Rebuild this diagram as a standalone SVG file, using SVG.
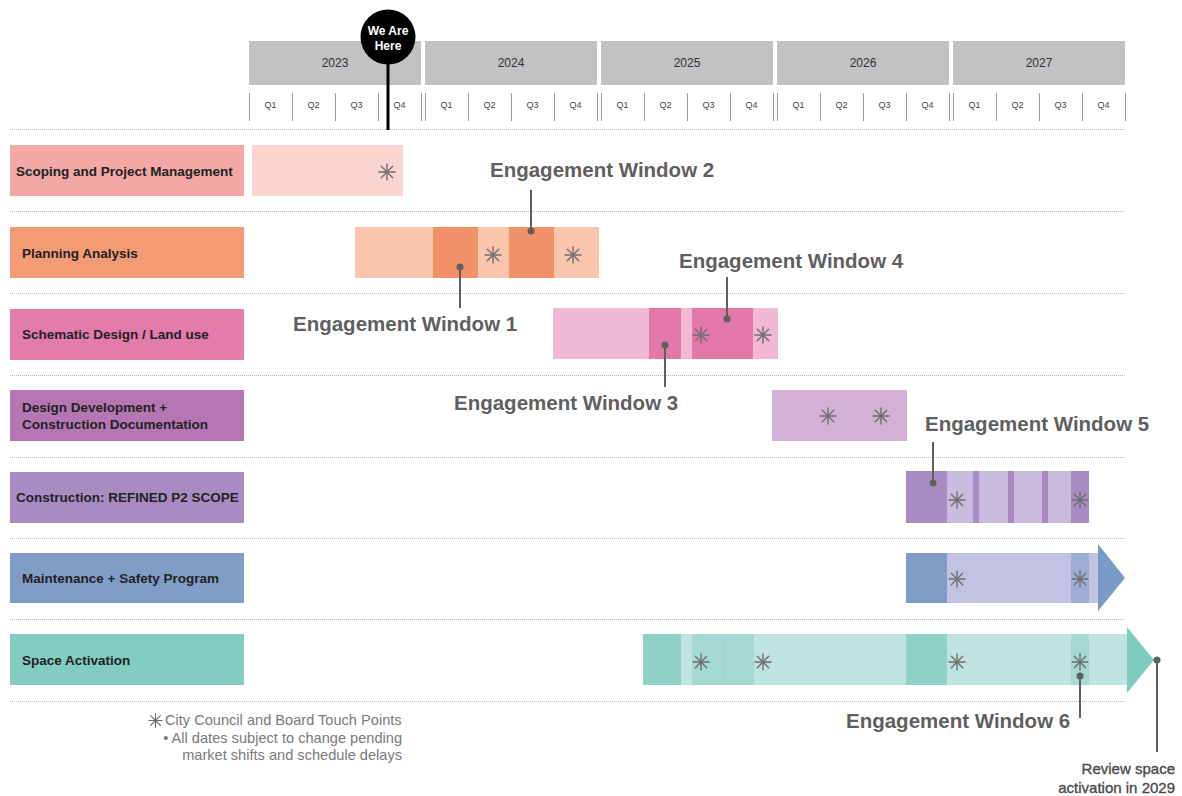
<svg xmlns="http://www.w3.org/2000/svg" xmlns:xlink="http://www.w3.org/1999/xlink" width="1182" height="796" viewBox="0 0 1182 796">
<style>
.yr{fill:#c1c2c4}
.yt{font-family:"Liberation Sans",Arial,sans-serif;font-size:12px;fill:#333;text-anchor:middle}
.qt{font-family:"Liberation Sans",Arial,sans-serif;font-size:9px;fill:#444;text-anchor:middle}
.tick{stroke:#9a9a9a;stroke-width:1}
.dot{stroke:#b8b8b8;stroke-width:1;stroke-dasharray:1 1}
.lbl{font-family:"Liberation Sans",Arial,sans-serif;font-size:13.5px;font-weight:bold;fill:#222}
.ew{font-family:"Liberation Sans",Arial,sans-serif;font-size:20.5px;font-weight:bold;fill:#5f5f5f}
.ptr{stroke:#5f5f5f;stroke-width:2;fill:none}
.pd{fill:#5f5f5f}
.note{font-family:"Liberation Sans",Arial,sans-serif;font-size:14.6px;fill:#7a7a7a}
.rev{font-family:"Liberation Sans",Arial,sans-serif;font-size:15px;fill:#4a4a4a;stroke:#4a4a4a;stroke-width:0.35;text-anchor:end}
</style>
<defs>
<symbol id="ast" viewBox="-10 -10 20 20" overflow="visible">
<g stroke="#6e6e6e" stroke-width="1.4" stroke-linecap="round">
<line x1="0" y1="-8" x2="0" y2="8"/>
<line x1="-8" y1="0" x2="8" y2="0"/>
<line x1="-5.7" y1="-5.7" x2="5.7" y2="5.7"/>
<line x1="-5.7" y1="5.7" x2="5.7" y2="-5.7"/>
</g>
</symbol>
</defs>
<rect width="1182" height="796" fill="#fff"/>

<g id="header">
<rect class="yr" x="249" y="41" width="172" height="44"/>
<rect class="yr" x="425" y="41" width="172" height="44"/>
<rect class="yr" x="601" y="41" width="172" height="44"/>
<rect class="yr" x="777" y="41" width="172" height="44"/>
<rect class="yr" x="953" y="41" width="172" height="44"/>
<text class="yt" x="335" y="67">2023</text>
<text class="yt" x="511" y="67">2024</text>
<text class="yt" x="687" y="67">2025</text>
<text class="yt" x="863" y="67">2026</text>
<text class="yt" x="1039" y="67">2027</text>
<g>
<line class="tick" x1="249.5" y1="93" x2="249.5" y2="121"/><line class="tick" x1="292.5" y1="93" x2="292.5" y2="121"/><line class="tick" x1="335.5" y1="93" x2="335.5" y2="121"/><line class="tick" x1="378.5" y1="93" x2="378.5" y2="121"/><line class="tick" x1="421.5" y1="93" x2="421.5" y2="121"/>
<line class="tick" x1="425.5" y1="93" x2="425.5" y2="121"/><line class="tick" x1="468.5" y1="93" x2="468.5" y2="121"/><line class="tick" x1="511.5" y1="93" x2="511.5" y2="121"/><line class="tick" x1="554.5" y1="93" x2="554.5" y2="121"/><line class="tick" x1="597.5" y1="93" x2="597.5" y2="121"/>
<line class="tick" x1="601.5" y1="93" x2="601.5" y2="121"/><line class="tick" x1="644.5" y1="93" x2="644.5" y2="121"/><line class="tick" x1="687.5" y1="93" x2="687.5" y2="121"/><line class="tick" x1="730.5" y1="93" x2="730.5" y2="121"/><line class="tick" x1="773.5" y1="93" x2="773.5" y2="121"/>
<line class="tick" x1="777.5" y1="93" x2="777.5" y2="121"/><line class="tick" x1="820.5" y1="93" x2="820.5" y2="121"/><line class="tick" x1="863.5" y1="93" x2="863.5" y2="121"/><line class="tick" x1="906.5" y1="93" x2="906.5" y2="121"/><line class="tick" x1="949.5" y1="93" x2="949.5" y2="121"/>
<line class="tick" x1="953.5" y1="93" x2="953.5" y2="121"/><line class="tick" x1="996.5" y1="93" x2="996.5" y2="121"/><line class="tick" x1="1039.5" y1="93" x2="1039.5" y2="121"/><line class="tick" x1="1082.5" y1="93" x2="1082.5" y2="121"/><line class="tick" x1="1125.5" y1="93" x2="1125.5" y2="121"/>
</g>
<g>
<text class="qt" x="270.5" y="108">Q1</text><text class="qt" x="313.5" y="108">Q2</text><text class="qt" x="356.5" y="108">Q3</text><text class="qt" x="399.5" y="108">Q4</text>
<text class="qt" x="446.5" y="108">Q1</text><text class="qt" x="489.5" y="108">Q2</text><text class="qt" x="532.5" y="108">Q3</text><text class="qt" x="575.5" y="108">Q4</text>
<text class="qt" x="622.5" y="108">Q1</text><text class="qt" x="665.5" y="108">Q2</text><text class="qt" x="708.5" y="108">Q3</text><text class="qt" x="751.5" y="108">Q4</text>
<text class="qt" x="798.5" y="108">Q1</text><text class="qt" x="841.5" y="108">Q2</text><text class="qt" x="884.5" y="108">Q3</text><text class="qt" x="927.5" y="108">Q4</text>
<text class="qt" x="974.5" y="108">Q1</text><text class="qt" x="1017.5" y="108">Q2</text><text class="qt" x="1060.5" y="108">Q3</text><text class="qt" x="1103.5" y="108">Q4</text>
</g>
</g>

<g id="gridlines">
<line class="dot" x1="10" y1="129.5" x2="1126" y2="129.5"/>
<line class="dot" x1="10" y1="211.5" x2="1126" y2="211.5"/>
<line class="dot" x1="10" y1="293.5" x2="1126" y2="293.5"/>
<line class="dot" x1="10" y1="375.5" x2="1126" y2="375.5"/>
<line class="dot" x1="10" y1="457.5" x2="1126" y2="457.5"/>
<line class="dot" x1="10" y1="538.5" x2="1126" y2="538.5"/>
<line class="dot" x1="10" y1="619.5" x2="1126" y2="619.5"/>
<line class="dot" x1="10" y1="701.5" x2="1126" y2="701.5"/>
</g>

<g id="row-scoping">
<rect x="10" y="145" width="234" height="51" fill="#f4a8a6"/>
<text class="lbl" x="16" y="176">Scoping and Project Management</text>
<rect x="252" y="145" width="151" height="51" fill="#fad4cf"/>
<use href="#ast" xlink:href="#ast" x="377" y="162" width="20" height="20"/>
</g>

<g id="row-planning">
<rect x="10" y="227" width="234" height="51" fill="#f39b75"/>
<text class="lbl" x="22" y="258">Planning Analysis</text>
<rect x="355" y="227" width="244" height="51" fill="#f9c6ad"/>
<rect x="433" y="227" width="45" height="51" fill="#f0916a"/>
<rect x="509" y="227" width="45" height="51" fill="#f0916a"/>
<use href="#ast" xlink:href="#ast" x="483" y="245" width="20" height="20"/>
<use href="#ast" xlink:href="#ast" x="563" y="245" width="20" height="20"/>
</g>

<g id="row-schematic">
<rect x="10" y="309" width="234" height="51" fill="#e37bab"/>
<text class="lbl" x="22" y="339">Schematic Design / Land use</text>
<rect x="553" y="308" width="225" height="51" fill="#f0b8d2"/>
<rect x="649" y="308" width="32" height="51" fill="#e277aa"/>
<rect x="692" y="308" width="61" height="51" fill="#e277aa"/>
<use href="#ast" xlink:href="#ast" x="691" y="325" width="20" height="20"/>
<use href="#ast" xlink:href="#ast" x="753" y="325" width="20" height="20"/>
</g>

<g id="row-design">
<rect x="10" y="390" width="234" height="51" fill="#b576b3"/>
<text class="lbl" x="22" y="412">Design Development +</text>
<text class="lbl" x="22" y="429">Construction Documentation</text>
<rect x="772" y="390" width="135" height="51" fill="#d2b1d4"/>
<use href="#ast" xlink:href="#ast" x="818" y="406" width="20" height="20"/>
<use href="#ast" xlink:href="#ast" x="871" y="406" width="20" height="20"/>
</g>

<g id="row-construction">
<rect x="10" y="472" width="234" height="51" fill="#a98bc3"/>
<text class="lbl" x="16" y="502">Construction: REFINED P2 SCOPE</text>
<rect x="906" y="471" width="183" height="52" fill="#c9bade"/>
<rect x="906" y="471" width="41" height="52" fill="#a98bc3"/>
<rect x="973" y="471" width="6" height="52" fill="#a98bc3"/>
<rect x="1008" y="471" width="6" height="52" fill="#a98bc3"/>
<rect x="1042" y="471" width="6" height="52" fill="#a98bc3"/>
<rect x="1071" y="471" width="18" height="52" fill="#a98bc3"/>
<use href="#ast" xlink:href="#ast" x="947" y="490" width="20" height="20"/>
<use href="#ast" xlink:href="#ast" x="1070" y="490" width="20" height="20"/>
</g>

<g id="row-maintenance">
<rect x="10" y="553" width="234" height="50" fill="#7f9dc7"/>
<text class="lbl" x="22" y="583">Maintenance + Safety Program</text>
<rect x="906" y="553" width="193" height="50" fill="#c2c3e2"/>
<rect x="906" y="553" width="41" height="50" fill="#7f9dc7"/>
<rect x="1071" y="553" width="18" height="50" fill="#9eadd6"/>
<polygon points="1098,544 1125,578 1098,611" fill="#7a9ac6"/>
<use href="#ast" xlink:href="#ast" x="947" y="569" width="20" height="20"/>
<use href="#ast" xlink:href="#ast" x="1070" y="569" width="20" height="20"/>
</g>

<g id="row-space">
<rect x="10" y="634" width="234" height="51" fill="#82ccc1"/>
<text class="lbl" x="22" y="665">Space Activation</text>
<rect x="643" y="634" width="485" height="51" fill="#bfe3df"/>
<rect x="643" y="634" width="38" height="51" fill="#8fd1c6"/>
<rect x="692" y="634" width="62" height="51" fill="#a6d9d2"/>
<line x1="723" y1="634" x2="723" y2="685" stroke="#9cd3cb" stroke-width="1"/>
<rect x="906" y="634" width="41" height="51" fill="#8fd1c6"/>
<rect x="1071" y="634" width="18" height="51" fill="#a6d9d2"/>
<polygon points="1127,627 1154,660 1127,693" fill="#7fcabf"/>
<use href="#ast" xlink:href="#ast" x="691" y="652" width="20" height="20"/>
<use href="#ast" xlink:href="#ast" x="753" y="652" width="20" height="20"/>
<use href="#ast" xlink:href="#ast" x="947" y="652" width="20" height="20"/>
<use href="#ast" xlink:href="#ast" x="1070" y="652" width="20" height="20"/>
</g>

<g id="we-are-here">
<line x1="388" y1="50" x2="388" y2="130" stroke="#000" stroke-width="3"/>
<circle cx="388" cy="37" r="27.5" fill="#000"/>
<text x="388" y="35" font-family="Liberation Sans,Arial,sans-serif" font-size="12" font-weight="bold" fill="#fff" text-anchor="middle">We Are</text>
<text x="388" y="50" font-family="Liberation Sans,Arial,sans-serif" font-size="12" font-weight="bold" fill="#fff" text-anchor="middle">Here</text>
</g>

<g id="connectors">
<line class="ptr" x1="460" y1="267" x2="460" y2="308"/><circle class="pd" cx="460" cy="267" r="3.5"/>
<line class="ptr" x1="531" y1="190" x2="531" y2="231"/><circle class="pd" cx="531" cy="231" r="3.5"/>
<line class="ptr" x1="665" y1="345" x2="665" y2="387"/><circle class="pd" cx="665" cy="345" r="3.5"/>
<line class="ptr" x1="727" y1="277" x2="727" y2="319"/><circle class="pd" cx="727" cy="319" r="3.5"/>
<line class="ptr" x1="933" y1="442" x2="933" y2="483"/><circle class="pd" cx="933" cy="483" r="3.5"/>
<line class="ptr" x1="1080" y1="676" x2="1080" y2="718"/><circle class="pd" cx="1080" cy="676" r="3.5"/>
<line class="ptr" x1="1157" y1="660" x2="1157" y2="752"/><circle class="pd" cx="1157" cy="660" r="3.5"/>
</g>

<g id="ew-labels">
<text class="ew" x="293" y="331">Engagement Window 1</text>
<text class="ew" x="490" y="177">Engagement Window 2</text>
<text class="ew" x="454" y="410">Engagement Window 3</text>
<text class="ew" x="679" y="268">Engagement Window 4</text>
<text class="ew" x="925" y="431">Engagement Window 5</text>
<text class="ew" x="846" y="728">Engagement Window 6</text>
<text class="rev" x="1175" y="774">Review space</text>
<text class="rev" x="1175" y="793">activation in 2029</text>
</g>

<g id="legend">
<use href="#ast" xlink:href="#ast" x="147" y="712" width="17" height="17"/>
<text class="note" x="165" y="725">City Council and Board Touch Points</text>
<text class="note" x="402" y="743" text-anchor="end">• All dates subject to change pending</text>
<text class="note" x="402" y="760" text-anchor="end">market shifts and schedule delays</text>
</g>
</svg>
